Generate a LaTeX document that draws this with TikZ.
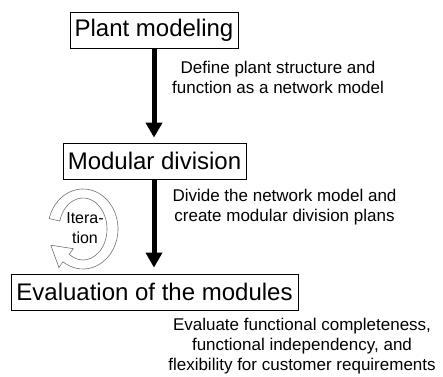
\documentclass[tikz,border=0pt]{standalone}
\usepackage{fontspec}
\setmainfont{Liberation Sans}
\usetikzlibrary{arrows.meta,calc}
\begin{document}
\begin{tikzpicture}[x=1pt,y=1pt,
  stagebox/.style={draw=black, line width=0.8pt, inner sep=0pt, minimum height=36pt, font=\fontsize{24}{28}\selectfont},
  note/.style={align=center, inner sep=0pt, font=\fontsize{17}{20}\selectfont},
  flow/.style={line width=5pt, -{Triangle[length=15pt,width=16pt]}},
  ring/.style={draw=black!55, line width=0.6pt, fill=white}]
\useasboundingbox (0,0) rectangle (443,376);
\node[stagebox, minimum width=168pt] (plant) at (154,346) {Plant modeling};
\node[stagebox, minimum width=183pt] (modular) at (154.5,215) {Modular division};
\node[stagebox, minimum width=287pt] (eval) at (154.5,84) {Evaluation of the modules};
\draw[flow, shorten >=5pt] (plant.south -| 154,0) -- (modular.north -| 154,0);
\draw[flow, shorten >=6pt] (modular.south -| 154,0) -- (eval.north -| 154,0);
\node[note] (t1) at (278,299) {Define plant structure and\\function as a network model};
\node[note] (t2) at (284.5,169) {Divide the network model and\\create modular division plans};
\node[note] (t3) at (302,30) {Evaluate functional completeness,\\functional independency, and\\flexibility for customer requirements};
\coordinate (c) at (83,147);
\draw[ring] (c) ++(165:35 and 40) arc[start angle=165, end angle=-125, x radius=35, y radius=40]
  -- ($(c)+(-125:42 and 47)$) -- (50.8,130.8) -- ($(c)+(-125:17 and 24)$)
  -- ($(c)+(-125:24 and 31)$) arc[start angle=-125, end angle=165, x radius=24, y radius=31] -- cycle;
\node[note, font=\fontsize{16}{20}\selectfont] (iter) at (85,148) {Itera-\\tion};
\end{tikzpicture}
\end{document}
